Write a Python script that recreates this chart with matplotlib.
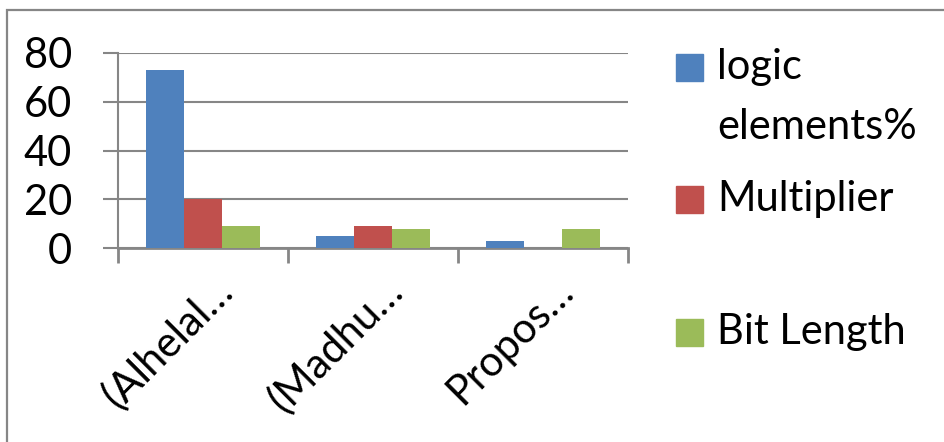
import matplotlib
matplotlib.use("Agg")
import matplotlib.pyplot as plt
import matplotlib.transforms as mtransforms
from matplotlib.patches import Rectangle
import numpy as np

categories = ["(Alhelal\u2026", "(Madhu\u2026", "Propos\u2026"]
series_names = ["logic\nelements%", "Multiplier", "Bit Length"]
logic_elements = [73, 5, 3]
multiplier = [20, 9, 0]
bit_length = [9, 8, 8]
series_values = [logic_elements, multiplier, bit_length]
colors = ["#4F81BD", "#C0504D", "#9BBB59"]
yticks = [0, 20, 40, 60, 80]

W, H = 945, 442
FS = 30
plt.rcParams['font.family'] = ['Lato', 'DejaVu Sans']
fig = plt.figure(figsize=(W / 100, H / 100), dpi=100)

# outer chart border (left and top visible)
fig.add_artist(Rectangle((7 / W, -0.2), 1.2, 1.2 - 10 / H, transform=fig.transFigure,
                         fill=False, edgecolor="#868686", linewidth=1.6))

ax = fig.add_axes([118 / W, 1 - 248 / H, (628 - 118) / W, (248 - 53) / H])
x = np.arange(len(categories))
bw = 0.222
for i, (vals, c) in enumerate(zip(series_values, colors)):
    ax.bar(x + (i - 1) * bw, vals, width=bw, color=c, zorder=3, linewidth=0)

ax.set_xlim(-0.5, len(categories) - 0.5)
ax.set_ylim(0, 80)
ax.set_yticks(yticks)
ax.set_yticklabels([str(v) for v in yticks], fontsize=FS)
ax.tick_params(axis='y', length=11, width=1.5, color="#868686", pad=22)
ax.set_xticks(np.arange(len(categories) + 1) - 0.5)
ax.set_xticklabels([])
ax.tick_params(axis='x', length=11, width=2, color="#868686")
ax.grid(axis='y', color="#868686", linewidth=1.5, zorder=0)
for s in ['top', 'right']:
    ax.spines[s].set_visible(False)
ax.spines['left'].set_color("#868686")
ax.spines['left'].set_linewidth(1.5)
ax.spines['bottom'].set_color("#868686")
ax.spines['bottom'].set_linewidth(2)
ax.set_axisbelow(True)

# rotated category labels
for xi, lab in zip(x, categories):
    off = mtransforms.ScaledTranslation(32 / 100, -45 / 100, fig.dpi_scale_trans)
    trans = mtransforms.blended_transform_factory(ax.transData, ax.transAxes) + off
    ax.text(xi, 0, lab, transform=trans, rotation=45, rotation_mode='anchor',
            ha='right', va='baseline', fontsize=FS)

# legend
leg_y = [67, 199, 332]
for name, c, yy in zip(series_names, colors, leg_y):
    fig.add_artist(Rectangle((676 / W, 1 - (yy + 13.5) / H), 27 / W, 27 / H,
                             transform=fig.transFigure, color=c))
    for k, line in enumerate(name.split("\n")):
        fig.text(717 / W, 1 - (yy + 60 * k) / H, line, fontsize=FS, ha='left', va='center')

fig.savefig("out.png", dpi=100)
